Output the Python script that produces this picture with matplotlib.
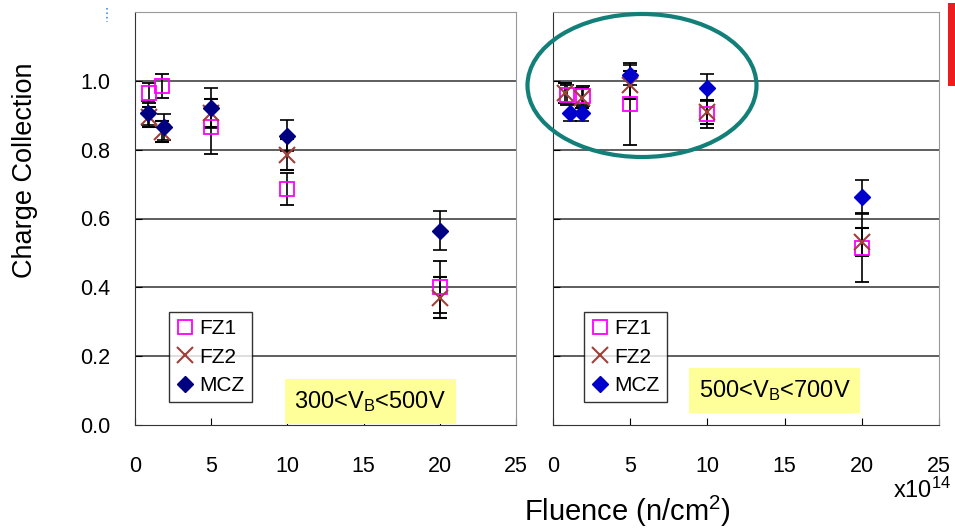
import numpy as np
import matplotlib
matplotlib.use("Agg")
from matplotlib import pyplot as plt
from matplotlib.patches import Ellipse, Rectangle

plt.rcParams['font.family'] = ['Liberation Sans', 'DejaVu Sans']
plt.rcParams['mathtext.fontset'] = 'custom'
plt.rcParams['mathtext.rm'] = 'Liberation Sans'
plt.rcParams['mathtext.it'] = 'Liberation Sans:italic'

# fluence in 1e14 n/cm2
fz1_x_lo = [0.9, 1.8, 5, 10, 20]
fz1_y_lo = [0.965, 0.985, 0.866, 0.686, 0.401]
fz1_e_lo = [0.03, 0.035, 0.08, 0.047, 0.075]
fz2_x_lo = [0.9, 1.8, 5, 10, 20]
fz2_y_lo = [0.895, 0.852, 0.907, 0.785, 0.37]
fz2_e_lo = [0.03, 0.03, 0.04, 0.045, 0.06]
mcz_x_lo = [0.85, 1.9, 5, 10, 20]
mcz_y_lo = [0.907, 0.866, 0.921, 0.84, 0.565]
mcz_e_lo = [0.035, 0.038, 0.057, 0.045, 0.057]

fz1_x_hi = [0.9, 1.95, 5, 10, 20]
fz1_y_hi = [0.959, 0.956, 0.933, 0.904, 0.515]
fz1_e_hi = [0.03, 0.03, 0.12, 0.04, 0.1]
fz2_x_hi = [0.8, 1.9, 5, 10, 20]
fz2_y_hi = [0.965, 0.95, 0.988, 0.91, 0.532]
fz2_e_hi = [0.03, 0.03, 0.04, 0.035, 0.04]
mcz_x_hi = [1.1, 1.9, 5, 10, 20]
mcz_y_hi = [0.907, 0.907, 1.017, 0.98, 0.663]
mcz_e_hi = [0.025, 0.025, 0.03, 0.04, 0.05]

labels = ['FZ1', 'FZ2', 'MCZ']
xticks = [0, 5, 10, 15, 20, 25]
yticks = [0.0, 0.2, 0.4, 0.6, 0.8, 1.0]

W, H = 955, 528
fig = plt.figure(figsize=(W / 100, H / 100), dpi=100)

def px_ax(x0, x1, y0, y1):
    return fig.add_axes([x0 / W, 1 - y1 / H, (x1 - x0) / W, (y1 - y0) / H])

ax1 = px_ax(135, 516, 12, 425)
ax2 = px_ax(553, 939, 12, 425)

def panel(ax, d, mcz_col, legpos, text, textpos, show_y):
    (x1, y1, e1), (x2, y2, e2), (x3, y3, e3) = d
    eb = dict(ecolor='black', elinewidth=1.2, capsize=5, capthick=1.2, linestyle='none')
    ax.errorbar(x1, y1, yerr=e1, marker='s', ms=10, mfc='none', mec='#FF00FF', mew=1.3, label=labels[0], **eb)
    ax.errorbar(x2, y2, yerr=e2, marker='x', ms=11, mec='#A0403A', mew=1.5, label=labels[1], **eb)
    ax.errorbar(x3, y3, yerr=e3, marker='D', ms=8, mfc=mcz_col, mec=mcz_col, label=labels[2], **eb)
    ax.set_xlim(0, 25)
    ax.set_ylim(0, 1.2)
    ax.set_xticks(xticks)
    ax.set_yticks(yticks)
    for y in yticks[1:]:
        ax.axhline(y, color='#333333', lw=1.1, zorder=0)
    ax.tick_params(axis='x', direction='in', length=5, pad=22, labelsize=15.5)
    ax.tick_params(axis='y', direction='in', length=5, pad=18, labelsize=15.5, labelleft=show_y)
    ax.spines['top'].set_color('#999999')
    ax.spines['right'].set_color('#999999')
    for s in ['left', 'bottom']:
        ax.spines[s].set_color('#333333')
    h, l = ax.get_legend_handles_labels()
    h = [hh[0] for hh in h]
    leg = ax.legend(h, l, loc='upper left', bbox_to_anchor=legpos, borderaxespad=0,
                    fontsize=15, frameon=True, fancybox=False, handlelength=0.8,
                    handletextpad=0.3, labelspacing=0.45, borderpad=0.35)
    leg.get_frame().set_edgecolor('black')
    leg.get_frame().set_linewidth(1.0)
    ax.text(textpos[0], textpos[1], text, transform=ax.transAxes, ha='center', va='center',
            fontsize=17, bbox=dict(facecolor='#FFFF99', edgecolor='none', pad=7))

panel(ax1, [(fz1_x_lo, fz1_y_lo, fz1_e_lo), (fz2_x_lo, fz2_y_lo, fz2_e_lo), (mcz_x_lo, mcz_y_lo, mcz_e_lo)],
      '#000080', (0.089, 0.274), r'300<V$_{\rm B}$<500V', (0.617, 0.057), True)
panel(ax2, [(fz1_x_hi, fz1_y_hi, fz1_e_hi), (fz2_x_hi, fz2_y_hi, fz2_e_hi), (mcz_x_hi, mcz_y_hi, mcz_e_hi)],
      '#0000CC', (0.080, 0.274), r'500<V$_{\rm B}$<700V', (0.574, 0.0835), False)

fig.text(25 / W, 1 - 170 / H, 'Charge Collection', rotation=90, ha='center', va='center', fontsize=19.5)
fig.text(627 / W, 1 - 511 / H, r'Fluence (n/cm$^2$)', ha='center', va='center', fontsize=21)
fig.text(922 / W, 1 - 490 / H, r'x10$^{14}$', ha='center', va='center', fontsize=17)

# annotations drawn on the slide
fig.patches.append(Ellipse((642 / W, 1 - 85.5 / H), 229 / W, 143 / H, transform=fig.transFigure,
                           fill=False, edgecolor='#128078', lw=3))
fig.patches.append(Rectangle((948 / W, 1 - 86 / H), 7 / W, 83 / H, transform=fig.transFigure,
                             facecolor='#EE1C1C', edgecolor='none'))
fig.lines.append(plt.Line2D([107 / W, 107 / W], [1 - 8 / H, 1 - 22 / H], transform=fig.transFigure,
                            color='#4A90D9', lw=1.2, linestyle=':'))

fig.savefig('out.png', dpi=100)
